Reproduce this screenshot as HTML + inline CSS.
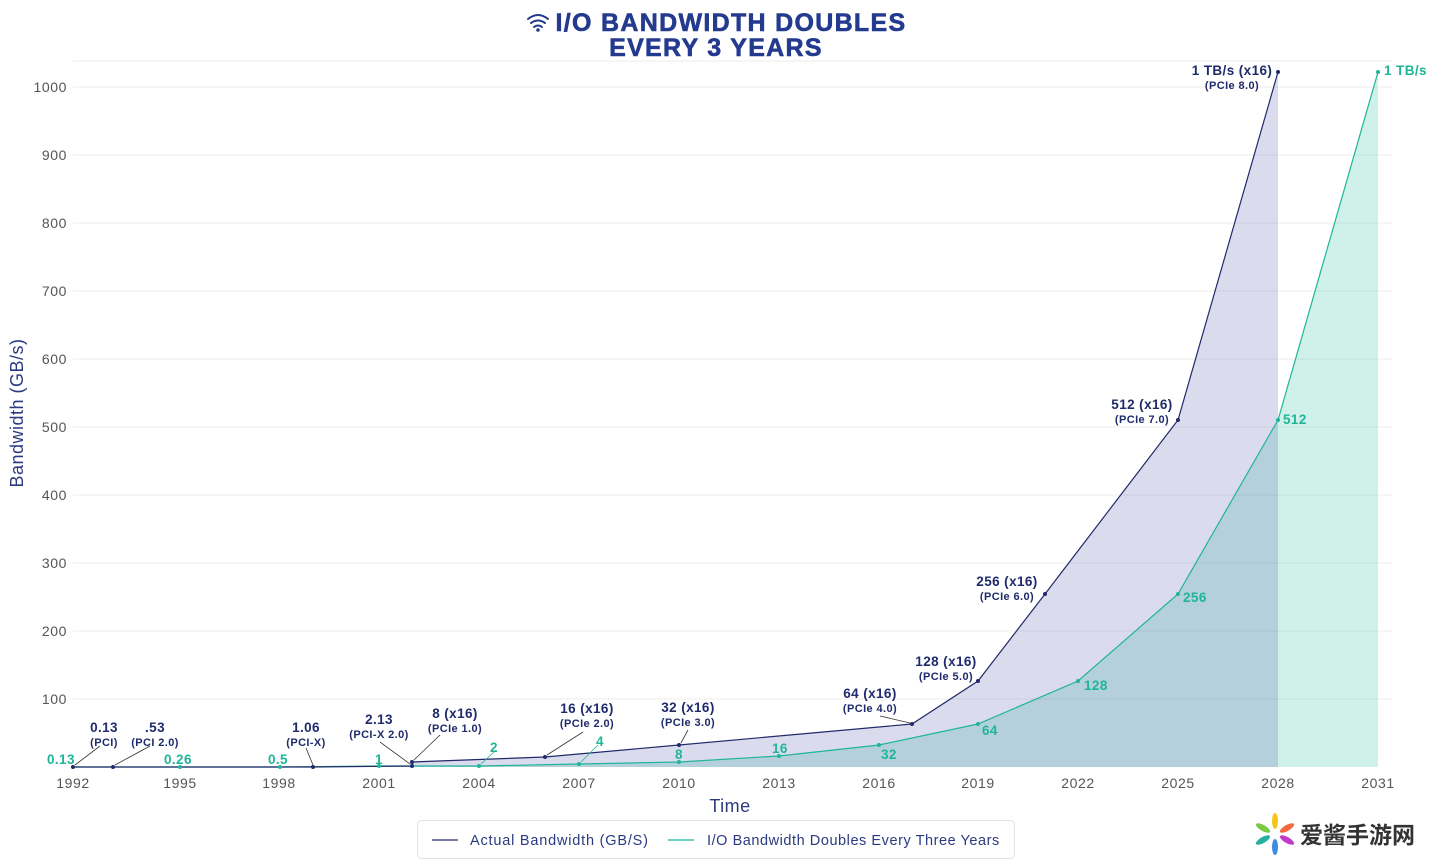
<!DOCTYPE html>
<html><head><meta charset="utf-8"><style>
html,body{margin:0;padding:0;background:#fff;}
svg{display:block;font-family:"Liberation Sans","Noto Sans CJK SC",sans-serif;}
.t{fill:#555;font-size:14px;letter-spacing:0.6px;}
.n{fill:#1f2b6b;font-weight:bold;font-size:13.5px;letter-spacing:0.4px;}
.ns{fill:#1f2b6b;font-weight:bold;font-size:11px;letter-spacing:0.4px;}
.g{fill:#1fb598;font-weight:bold;font-size:13.5px;letter-spacing:0.4px;}
</style></head><body>
<svg width="1440" height="860" viewBox="0 0 1440 860">
<rect width="1440" height="860" fill="#fff"/>
<g fill="none" stroke="#233a8f" stroke-width="2" stroke-linecap="round">
<path d="M528 19 q10 -8 20 0"/><path d="M531 23 q7 -5 14 0"/><path d="M534 27 q4 -3 8 0"/>
</g>
<circle cx="538" cy="30" r="1.8" fill="#233a8f"/>
<text x="731" y="31" text-anchor="middle" font-size="25" font-weight="bold" fill="#233a8f" letter-spacing="1.3" stroke="#233a8f" stroke-width="0.6">I/O BANDWIDTH DOUBLES</text>
<text x="716" y="56" text-anchor="middle" font-size="25" font-weight="bold" fill="#233a8f" letter-spacing="1.3" stroke="#233a8f" stroke-width="0.6">EVERY 3 YEARS</text>
<g stroke="#eeeeee" stroke-width="1">
<line x1="73" x2="1392" y1="61" y2="61"/>
<line x1="73" x2="1392" y1="87" y2="87"/><line x1="73" x2="1392" y1="155" y2="155"/>
<line x1="73" x2="1392" y1="223" y2="223"/><line x1="73" x2="1392" y1="291" y2="291"/>
<line x1="73" x2="1392" y1="359" y2="359"/><line x1="73" x2="1392" y1="427" y2="427"/>
<line x1="73" x2="1392" y1="495" y2="495"/><line x1="73" x2="1392" y1="563" y2="563"/>
<line x1="73" x2="1392" y1="631" y2="631"/><line x1="73" x2="1392" y1="699" y2="699"/>
</g>
<g class="t" text-anchor="end">
<text x="67" y="92">1000</text><text x="67" y="160">900</text><text x="67" y="228">800</text>
<text x="67" y="296">700</text><text x="67" y="364">600</text><text x="67" y="432">500</text>
<text x="67" y="500">400</text><text x="67" y="568">300</text><text x="67" y="636">200</text>
<text x="67" y="704">100</text>
</g>
<text transform="translate(23,413) rotate(-90)" text-anchor="middle" font-size="18" fill="#2b3a80" letter-spacing="0.5">Bandwidth (GB/s)</text>
<polygon fill="rgba(40,190,160,0.22)" points="73,767 180,767 280,767 379,766 479,766 579,764 679,762 779,756 879,745 978,724 1078,681 1178,594 1278,420 1378,72 1378,767"/>
<polygon fill="rgba(70,80,170,0.2)" points="73,767 113,767 313,767 412,766 412,762 545,757 679,745 912,724 978,681 1045,594 1178,420 1278,72 1278,767"/>
<polyline fill="none" stroke="#1fb598" stroke-width="1.2" points="73,767 180,767 280,767 379,766 479,766 579,764 679,762 779,756 879,745 978,724 1078,681 1178,594 1278,420 1378,72"/>
<polyline fill="none" stroke="#222a6a" stroke-width="1.2" points="73,767 113,767 313,767 412,766 412,762 545,757 679,745 912,724 978,681 1045,594 1178,420 1278,72"/>
<g fill="#1fb598">
<circle cx="180" cy="767" r="2"/><circle cx="280" cy="767" r="2"/><circle cx="379" cy="766" r="2"/><circle cx="479" cy="766" r="2"/><circle cx="579" cy="764" r="2"/><circle cx="679" cy="762" r="2"/><circle cx="779" cy="756" r="2"/><circle cx="879" cy="745" r="2"/><circle cx="978" cy="724" r="2"/><circle cx="1078" cy="681" r="2"/><circle cx="1178" cy="594" r="2"/><circle cx="1278" cy="420" r="2"/><circle cx="1378" cy="72" r="2"/>
</g>
<g fill="#222a6a">
<circle cx="73" cy="767" r="2"/><circle cx="113" cy="767" r="2"/><circle cx="313" cy="767" r="2"/><circle cx="412" cy="766" r="2"/><circle cx="412" cy="762" r="2"/><circle cx="545" cy="757" r="2"/><circle cx="679" cy="745" r="2"/><circle cx="912" cy="724" r="2"/><circle cx="978" cy="681" r="2"/><circle cx="1045" cy="594" r="2"/><circle cx="1178" cy="420" r="2"/><circle cx="1278" cy="72" r="2"/>
</g>
<g stroke="#333" stroke-width="0.8">
<line x1="75" y1="765" x2="100" y2="746"/><line x1="115" y1="765" x2="150" y2="746"/>
<line x1="313" y1="765" x2="306" y2="748"/><line x1="410" y1="764" x2="380" y2="742"/>
<line x1="414" y1="760" x2="440" y2="735"/><line x1="547" y1="755" x2="583" y2="732"/>
<line x1="681" y1="743" x2="688" y2="730"/><line x1="910" y1="723" x2="880" y2="716"/>
</g>
<g stroke="#1fb598" stroke-width="0.8"><line x1="481" y1="764" x2="494" y2="752"/><line x1="581" y1="762" x2="598" y2="745"/></g>
<g text-anchor="middle">
<text class="n" x="104" y="732">0.13</text><text class="ns" x="104" y="746">(PCI)</text>
<text class="n" x="155" y="732">.53</text><text class="ns" x="155" y="746">(PCI 2.0)</text>
<text class="n" x="306" y="732">1.06</text><text class="ns" x="306" y="746">(PCI-X)</text>
<text class="n" x="379" y="724">2.13</text><text class="ns" x="379" y="738">(PCI-X 2.0)</text>
<text class="n" x="455" y="718">8 (x16)</text><text class="ns" x="455" y="732">(PCIe 1.0)</text>
<text class="n" x="587" y="713">16 (x16)</text><text class="ns" x="587" y="727">(PCIe 2.0)</text>
<text class="n" x="688" y="712">32 (x16)</text><text class="ns" x="688" y="726">(PCIe 3.0)</text>
<text class="n" x="870" y="698">64 (x16)</text><text class="ns" x="870" y="712">(PCIe 4.0)</text>
<text class="n" x="946" y="666">128 (x16)</text><text class="ns" x="946" y="680">(PCIe 5.0)</text>
<text class="n" x="1007" y="586">256 (x16)</text><text class="ns" x="1007" y="600">(PCIe 6.0)</text>
<text class="n" x="1142" y="409">512 (x16)</text><text class="ns" x="1142" y="423">(PCIe 7.0)</text>
<text class="n" x="1232" y="75">1 TB/s (x16)</text><text class="ns" x="1232" y="89">(PCIe 8.0)</text>
</g>
<g>
<text class="g" x="47" y="764">0.13</text><text class="g" x="164" y="764">0.26</text>
<text class="g" x="268" y="764">0.5</text><text class="g" x="375" y="764">1</text>
<text class="g" x="490" y="752">2</text><text class="g" x="596" y="746">4</text>
<text class="g" x="675" y="759">8</text><text class="g" x="772" y="753">16</text>
<text class="g" x="881" y="759">32</text><text class="g" x="982" y="735">64</text>
<text class="g" x="1084" y="690">128</text><text class="g" x="1183" y="602">256</text>
<text class="g" x="1283" y="424">512</text><text class="g" x="1384" y="75">1 TB/s</text>
</g>
<g class="t" text-anchor="middle">
<text x="73" y="788">1992</text><text x="180" y="788">1995</text><text x="279" y="788">1998</text>
<text x="379" y="788">2001</text><text x="479" y="788">2004</text><text x="579" y="788">2007</text>
<text x="679" y="788">2010</text><text x="779" y="788">2013</text><text x="879" y="788">2016</text>
<text x="978" y="788">2019</text><text x="1078" y="788">2022</text><text x="1178" y="788">2025</text>
<text x="1278" y="788">2028</text><text x="1378" y="788">2031</text>
</g>
<text x="730" y="812" text-anchor="middle" font-size="18" fill="#2b3a80" letter-spacing="0.5">Time</text>
<rect x="417.5" y="820.5" width="597" height="38" rx="4" fill="#fff" stroke="#e2e2e2"/>
<line x1="432" y1="840" x2="458" y2="840" stroke="#222a6a" stroke-width="1.2"/>
<text x="470" y="845" font-size="14.5" fill="#2b3a80" letter-spacing="0.8">Actual Bandwidth (GB/S)</text>
<line x1="668" y1="840" x2="694" y2="840" stroke="#1fb598" stroke-width="1.2"/>
<text x="707" y="845" font-size="14.5" fill="#2b3a80" letter-spacing="0.55">I/O Bandwidth Doubles Every Three Years</text>
<g transform="translate(1275,834)">
<ellipse cx="0" cy="-13" rx="3" ry="8" fill="#f7c41a"/>
<ellipse cx="0" cy="13" rx="3" ry="8" fill="#3a8de0"/>
<ellipse cx="-12" cy="-6" rx="3" ry="8" fill="#7ac943" transform="rotate(-60 -12 -6)"/>
<ellipse cx="12" cy="-6" rx="3" ry="8" fill="#f26a3d" transform="rotate(60 12 -6)"/>
<ellipse cx="-12" cy="6" rx="3" ry="8" fill="#25b0a0" transform="rotate(60 -12 6)"/>
<ellipse cx="12" cy="6" rx="3" ry="8" fill="#c23ac9" transform="rotate(-60 12 6)"/>
</g>
<text x="1300" y="843" font-size="23" font-weight="bold" fill="#333">爱酱手游网</text>
</svg>
</body></html>
